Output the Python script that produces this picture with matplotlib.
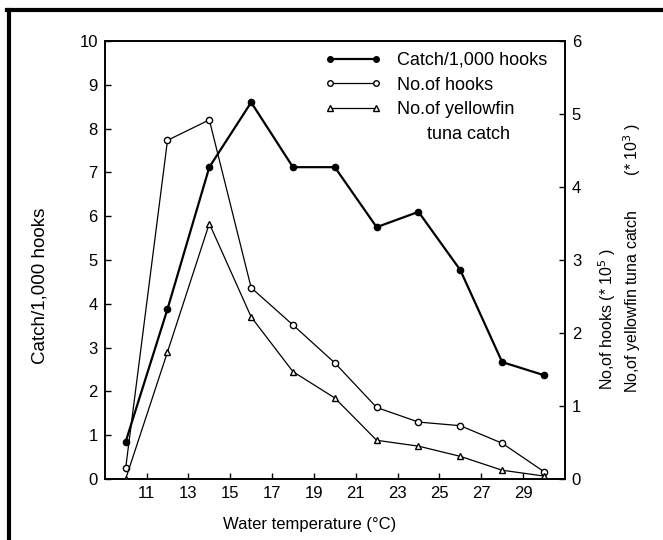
import matplotlib
matplotlib.use('Agg')
import matplotlib.pyplot as plt
from matplotlib.lines import Line2D

# 数据
temp = [10, 12, 14, 16, 18, 20, 22, 24, 26, 28, 30]
catch_rate = [0.85, 3.88, 7.12, 8.6, 7.12, 7.12, 5.75, 6.1, 4.77, 2.67, 2.37]  # 左轴
hooks = [0.15, 4.64, 4.92, 2.62, 2.11, 1.59, 0.98, 0.78, 0.73, 0.49, 0.10]     # 右轴 (*10^5)
yellowfin = [0.0, 1.74, 3.5, 2.22, 1.47, 1.11, 0.53, 0.45, 0.31, 0.12, 0.04]   # 右轴 (*10^3)
xticks = [11, 13, 15, 17, 19, 21, 23, 25, 27, 29]
left_ticks = list(range(0, 11))
right_ticks = list(range(0, 7))

plt.rcParams['font.family'] = ['Liberation Sans', 'DejaVu Sans']
fs = 12

fig = plt.figure(figsize=(6.63, 5.40), dpi=100, facecolor='white')
ax = fig.add_axes([0.158, 0.113, 0.694, 0.811])
ax2 = ax.twinx()

ax.plot(temp, catch_rate, color='black', lw=1.6, marker='o', ms=4.5,
        mfc='black', mec='black', zorder=5)
ax2.plot(temp, hooks, color='black', lw=0.9, marker='o', ms=4.5,
         mfc='white', mec='black')
ax2.plot(temp, yellowfin, color='black', lw=0.9, marker='^', ms=5,
         mfc='white', mec='black')

ax.set_xlim(9, 31)
ax.set_ylim(0, 10)
ax2.set_ylim(0, 6)
ax.set_xticks(xticks)
ax.set_yticks(left_ticks)
ax2.set_yticks(right_ticks)

for a in (ax, ax2):
    a.tick_params(direction='in', length=4, width=1, labelsize=fs, pad=5)
    for s in a.spines.values():
        s.set_linewidth(1.2)

# 轴标题
fig.text(0.4675, 0.028, 'Water temperature (°C)', fontsize=fs, ha='center', va='center')
fig.text(0.06, 0.47, 'Catch/1,000 hooks', rotation=90, fontsize=13.5,
         ha='center', va='center')
fig.text(0.916, 0.278, 'No,of hooks (* 10$^5$ )', rotation=90, fontsize=11.5,
         ha='center', va='bottom')
fig.text(0.954, 0.272, 'No,of yellowfin tuna catch        (* 10$^3$ )', rotation=90,
         fontsize=11.5, ha='center', va='bottom')

# 图例
h1 = Line2D([], [], color='black', lw=1.6, marker='o', ms=4, mfc='black')
h2 = Line2D([], [], color='black', lw=0.9, marker='o', ms=4, mfc='white')
h3 = Line2D([], [], color='black', lw=0.9, marker='^', ms=4.5, mfc='white')
h4 = Line2D([], [], color='none')
leg = ax.legend([h1, h2, h3, h4],
                ['Catch/1,000 hooks', 'No.of hooks', 'No.of yellowfin', '      tuna catch'],
                loc='upper left', bbox_to_anchor=(0.478, 0.975), frameon=False,
                fontsize=13, handlelength=3.15, handletextpad=0.83,
                labelspacing=0.42, borderpad=0, borderaxespad=0, numpoints=2)

# 外边框
fig.add_artist(Line2D([0.013, 0.013], [0, 0.982], transform=fig.transFigure,
                      color='black', lw=3))
fig.add_artist(Line2D([0.011, 1.0], [0.981, 0.981], transform=fig.transFigure,
                      color='black', lw=3))

fig.savefig('out.png', dpi=100, facecolor='white')
